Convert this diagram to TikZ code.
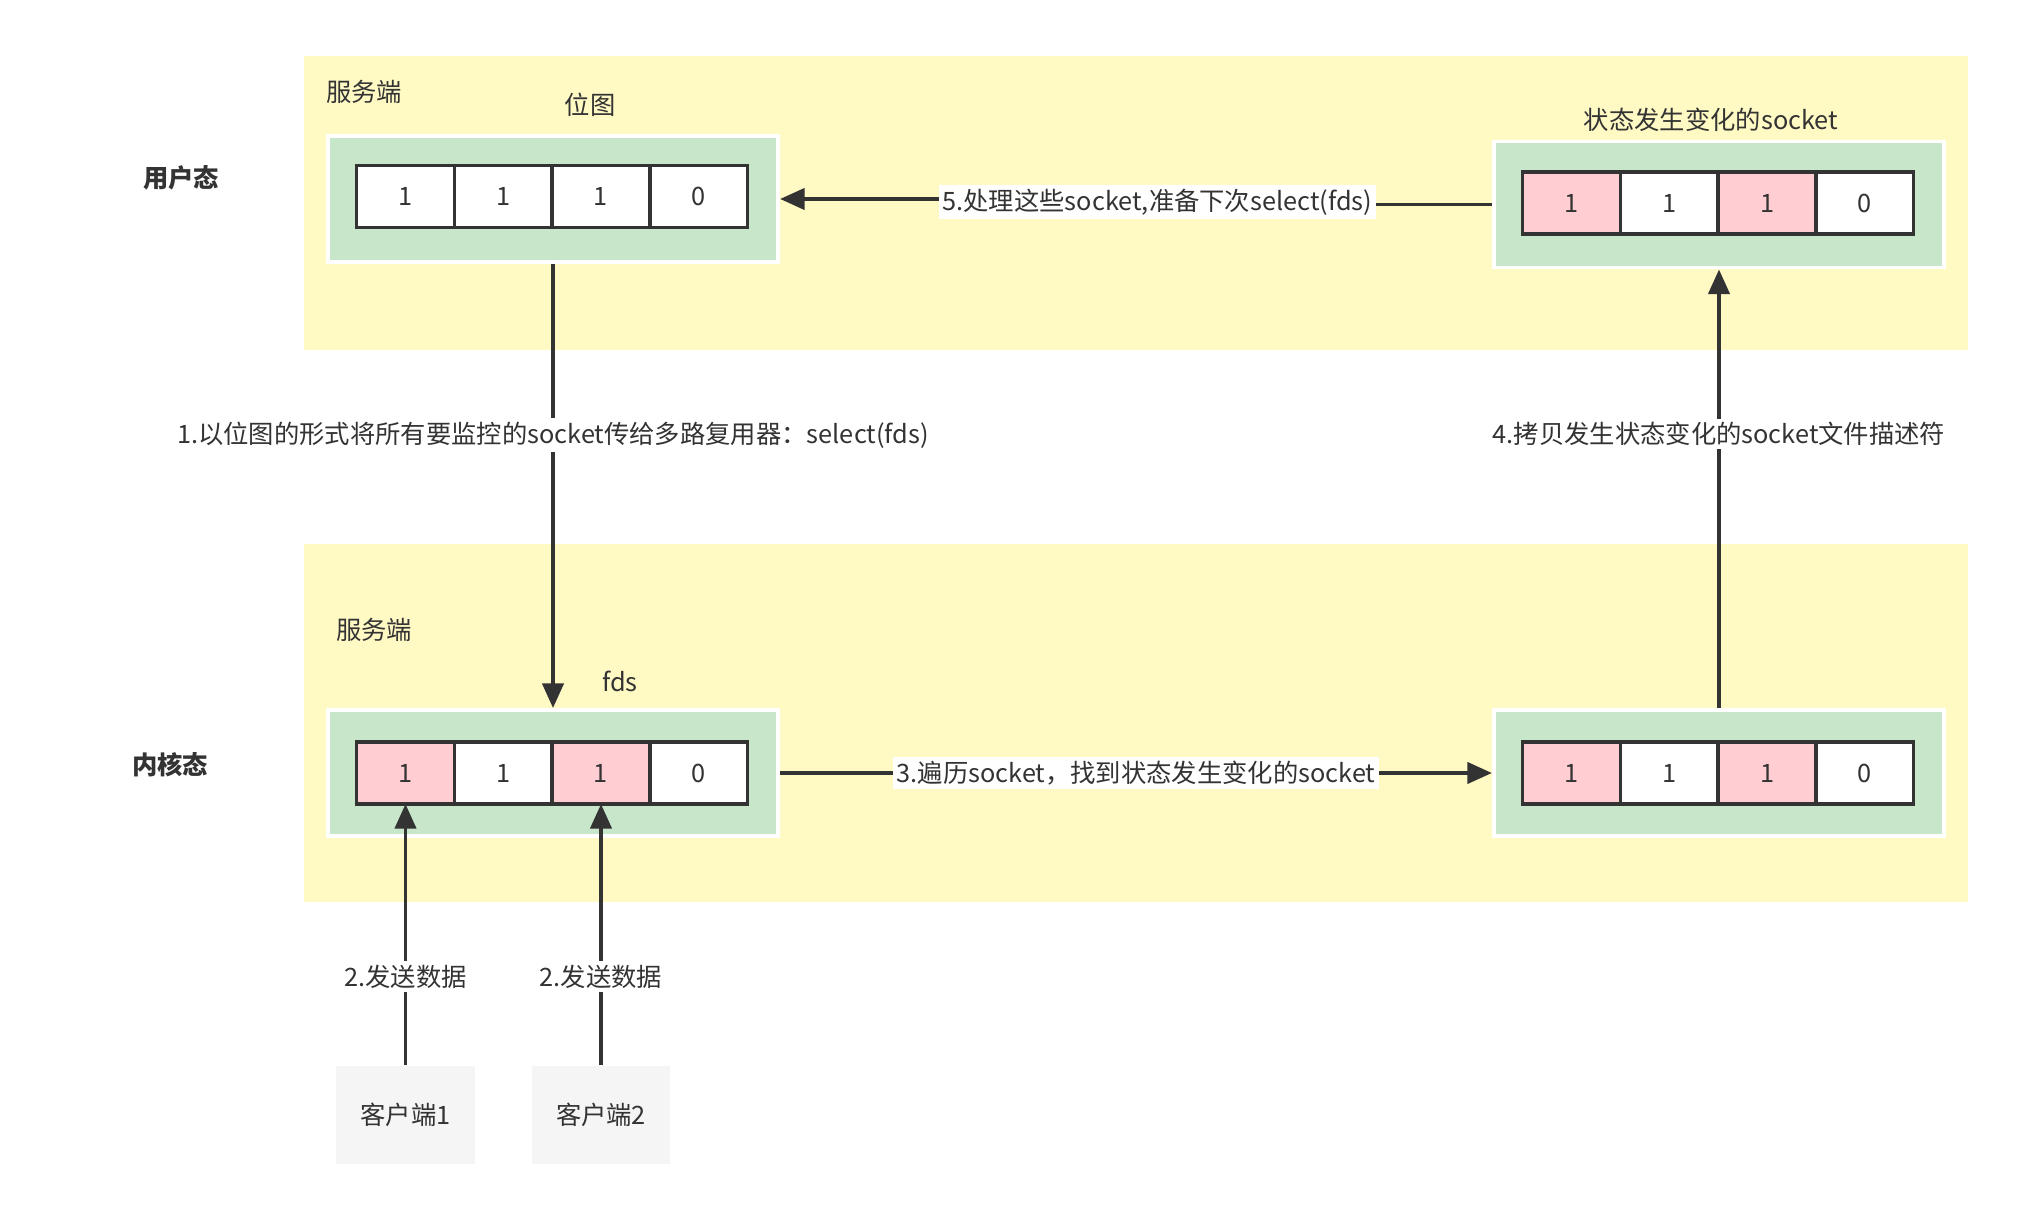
\documentclass[tikz,border=0pt]{standalone}
\usepackage{fontspec}
\setmainfont{Noto Sans CJK SC}
\usetikzlibrary{positioning,arrows.meta,calc}
\definecolor{bandyellow}{HTML}{FFF9C4}
\definecolor{boxgreen}{HTML}{C8E6C9}
\definecolor{bitpink}{HTML}{FFCDD2}
\definecolor{clientgray}{HTML}{F5F5F5}
\definecolor{ink}{HTML}{333333}

\tikzset{
	txt/.style={font=\fontsize{7.2}{8}\selectfont, text=ink},
	head/.style={font=\fontsize{7.2}{8}\selectfont\bfseries, text=ink},
	holder/.style={draw=white, line width=1.1pt, fill=boxgreen, minimum width=4.5cm, minimum height=1.26cm},
	bit/.style={draw=ink, line width=0.95pt, fill=white, minimum width=0.977cm, minimum height=0.62cm, inner sep=0pt, outer sep=0pt, txt},
	hot/.style={bit, fill=bitpink},
	client/.style={fill=clientgray, minimum width=1.38cm, minimum height=0.98cm, txt},
	flow/.style={draw=ink, line width=1.1pt, -{Triangle[length=7pt,width=6pt]}},
	lbl/.style={fill=white, inner sep=1pt, txt},
}

\begin{document}
\begin{tikzpicture}[x=0.01cm,y=-0.01cm]
		\useasboundingbox (0,0) rectangle (2020,1216);
		% user / kernel bands
		\fill[bandyellow] (304,56) rectangle (1968,350);
		\fill[bandyellow] (304,544) rectangle (1968,902);
		\node[head] (user) at (181,178) {用户态};
		\node[head] (kernel) at (170,765) {内核态};
		\node[txt] (srvup) at (364,92) {服务端};
		\node[txt] (srvdown) at (374,630) {服务端};
		\node[txt] (bitmap) at (590,105) {位图};
		\node[txt] (fdsname) at (620,681) {fds};
		\node[txt] (changed) at (1711,120) {状态发生变化的socket};

		% user space bitmap
		\node[holder] (ul) at (553,199) {};
		\node[bit] (ul1) at (405.5,196.5) {1};
		\node[bit, right=0pt of ul1] (ul2) {1};
		\node[bit, right=0pt of ul2] (ul3) {1};
		\node[bit, right=0pt of ul3] (ul4) {0};

		% changed sockets, user space
		\node[holder] (ur) at (1719,204.5) {};
		\node[hot] (ur1) at (1571.5,203) {1};
		\node[bit, right=0pt of ur1] (ur2) {1};
		\node[hot, right=0pt of ur2] (ur3) {1};
		\node[bit, right=0pt of ur3] (ur4) {0};

		% kernel fds
		\node[holder] (ll) at (553,773) {};
		\node[hot] (ll1) at (405.5,773) {1};
		\node[bit, right=0pt of ll1] (ll2) {1};
		\node[hot, right=0pt of ll2] (ll3) {1};
		\node[bit, right=0pt of ll3] (ll4) {0};

		% changed sockets, kernel
		\node[holder] (lr) at (1719,773) {};
		\node[hot] (lr1) at (1571.5,773) {1};
		\node[bit, right=0pt of lr1] (lr2) {1};
		\node[hot, right=0pt of lr2] (lr3) {1};
		\node[bit, right=0pt of lr3] (lr4) {0};

		% clients
		\node[client] (c1) at (ll1.center |- 0,1115) {客户端1};
		\node[client] (c2) at (ll3.center |- 0,1115) {客户端2};

		% steps
		\draw[flow] (ul.south) -- node[lbl, pos=0.385] (l1) {1.以位图的形式将所有要监控的socket传给多路复用器：select(fds)} (ll.north);
		\draw[flow] (c1.north) -- node[lbl, pos=0.34] (l2a) {2.发送数据} (ll1.south);
		\draw[flow] (c2.north) -- node[lbl, pos=0.34] (l2b) {2.发送数据} (ll3.south);
		\draw[flow] (ll.east) -- node[lbl] (l3) {3.遍历socket，找到状态发生变化的socket} (lr.west);
		\draw[flow] (lr.north) -- node[lbl, pos=0.625] (l4) {4.拷贝发生状态变化的socket文件描述符} (ur.south);
		\coordinate (mid5) at ($(ur.west)!0.47!(ul.east)$);
		\draw[flow] (ur.west) -| (mid5) |- (ul.east);
		\node[lbl] (l5) at (mid5) {5.处理这些socket,准备下次select(fds)};
	\end{tikzpicture}
\end{document}
